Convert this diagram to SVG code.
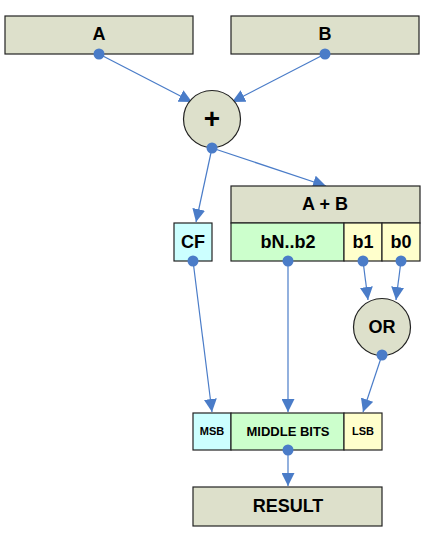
<svg xmlns="http://www.w3.org/2000/svg" width="437" height="544" viewBox="0 0 437 544">
<style>
.box{stroke:#222;stroke-width:1.2}
.tan{fill:#DDE0CB}
.cyan{fill:#CCFFFF}
.green{fill:#CCFFCC}
.yellow{fill:#FFFFCC}
.t{font-family:"Liberation Sans",Arial,sans-serif;font-weight:bold;fill:#000;text-anchor:middle;dominant-baseline:central}
.line{stroke:#4A7CC8;stroke-width:1.2;fill:none;marker-end:url(#arr)}
.dot{fill:#4A7CC8}
</style>
<defs>
<marker id="arr" viewBox="0 0 10 10" refX="10" refY="5" markerWidth="13" markerHeight="13" markerUnits="userSpaceOnUse" orient="auto">
<path d="M0,0 L10,5 L0,10 z" fill="#4A7CC8"/>
</marker>
</defs>
<g id="connectors">
<line class="line" x1="99" y1="54" x2="192" y2="102"/>
<line class="line" x1="325" y1="54" x2="232" y2="102"/>
<line class="line" x1="212" y1="148" x2="326" y2="186"/>
<line class="line" x1="212" y1="148" x2="196" y2="222"/>
<line class="line" x1="363" y1="261" x2="368" y2="300"/>
<line class="line" x1="401" y1="261" x2="396" y2="300"/>
<line class="line" x1="193" y1="261" x2="212" y2="412"/>
<line class="line" x1="288" y1="261" x2="288" y2="412"/>
<line class="line" x1="382" y1="355" x2="363" y2="412"/>
<line class="line" x1="288" y1="450" x2="288" y2="486"/>
</g>
<g id="A">
<rect class="box tan" x="5" y="16" width="188" height="38"/>
<text class="t" x="99" y="34" font-size="18">A</text>
</g>
<g id="B">
<rect class="box tan" x="231" y="16" width="188" height="38"/>
<text class="t" x="325" y="34" font-size="18">B</text>
</g>
<g id="plus">
<circle class="box tan" cx="212" cy="119" r="28.5"/>
<text class="t" x="212" y="118" font-size="28">+</text>
</g>
<g id="sum">
<rect class="box tan" x="231" y="186" width="189" height="37"/>
<text class="t" x="325" y="204" font-size="18">A + B</text>
<rect class="box green" x="231" y="223" width="113" height="38"/>
<text class="t" x="288" y="242" font-size="18">bN..b2</text>
<rect class="box yellow" x="344" y="223" width="38" height="38"/>
<text class="t" x="363" y="242" font-size="18">b1</text>
<rect class="box yellow" x="382" y="223" width="38" height="38"/>
<text class="t" x="401" y="242" font-size="18">b0</text>
</g>
<g id="CF">
<rect class="box cyan" x="174" y="223" width="38" height="38"/>
<text class="t" x="193" y="242" font-size="18">CF</text>
</g>
<g id="OR">
<circle class="box tan" cx="382" cy="327" r="28.5"/>
<text class="t" x="382" y="327" font-size="18">OR</text>
</g>
<g id="out">
<rect class="box cyan" x="193" y="413" width="38" height="37"/>
<text class="t" x="212" y="431" font-size="11">MSB</text>
<rect class="box green" x="231" y="413" width="113" height="37"/>
<text class="t" x="288" y="431" font-size="13">MIDDLE BITS</text>
<rect class="box yellow" x="344" y="413" width="38" height="37"/>
<text class="t" x="363" y="431" font-size="11">LSB</text>
</g>
<g id="RESULT">
<rect class="box tan" x="193" y="487" width="189" height="39"/>
<text class="t" x="288" y="506" font-size="18">RESULT</text>
</g>
<g id="dots">
<circle class="dot" cx="99" cy="54" r="5.5"/>
<circle class="dot" cx="325" cy="54" r="5.5"/>
<circle class="dot" cx="212" cy="148" r="5.5"/>
<circle class="dot" cx="193" cy="261" r="5.5"/>
<circle class="dot" cx="288" cy="261" r="5.5"/>
<circle class="dot" cx="363" cy="261" r="5.5"/>
<circle class="dot" cx="401" cy="261" r="5.5"/>
<circle class="dot" cx="382" cy="355" r="5.5"/>
<circle class="dot" cx="288" cy="450" r="5.5"/>
</g>
</svg>
